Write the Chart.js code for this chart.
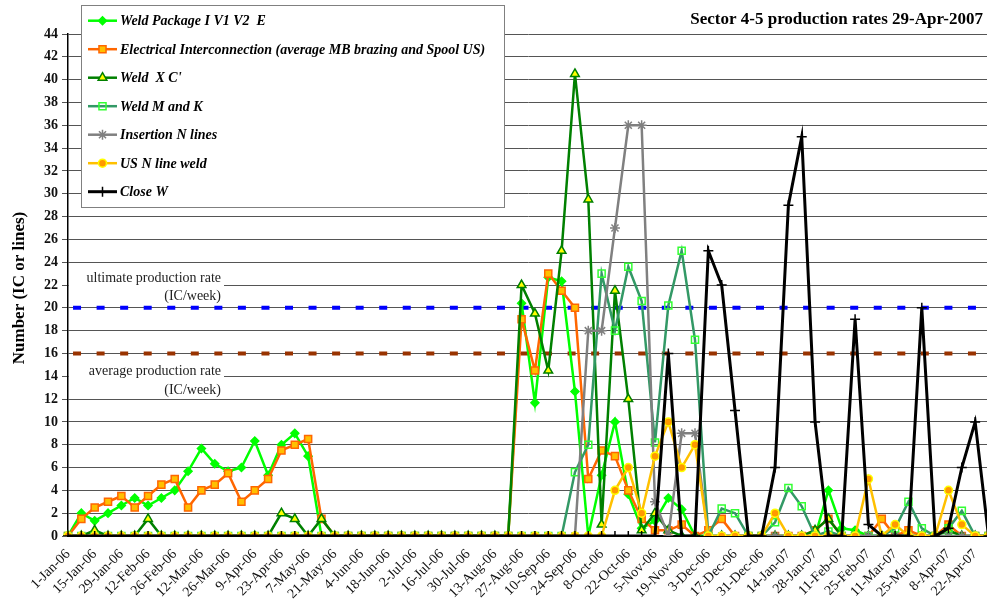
<!DOCTYPE html>
<html>
<head>
<meta charset="utf-8">
<script src="https://cdn.jsdelivr.net/npm/chart.js@4.4.0/dist/chart.umd.min.js"></script>
<style>
  html, body { margin: 0; padding: 0; background: #fff; overflow: hidden; }
  #wrap { position: absolute; left: 0; top: 0; width: 995px; height: 601px; }
</style>
</head>
<body>
<div id="wrap"><canvas id="chart"></canvas></div>
<script>
// weekly categories, a label is shown every second week
const weeks = [
    '1-Jan-06', '8-Jan-06', '15-Jan-06', '22-Jan-06', '29-Jan-06', '5-Feb-06', '12-Feb-06', '19-Feb-06',
    '26-Feb-06', '5-Mar-06', '12-Mar-06', '19-Mar-06', '26-Mar-06', '2-Apr-06', '9-Apr-06', '16-Apr-06',
    '23-Apr-06', '30-Apr-06', '7-May-06', '14-May-06', '21-May-06', '28-May-06', '4-Jun-06', '11-Jun-06',
    '18-Jun-06', '25-Jun-06', '2-Jul-06', '9-Jul-06', '16-Jul-06', '23-Jul-06', '30-Jul-06', '6-Aug-06',
    '13-Aug-06', '20-Aug-06', '27-Aug-06', '3-Sep-06', '10-Sep-06', '17-Sep-06', '24-Sep-06', '1-Oct-06',
    '8-Oct-06', '15-Oct-06', '22-Oct-06', '29-Oct-06', '5-Nov-06', '12-Nov-06', '19-Nov-06', '26-Nov-06',
    '3-Dec-06', '10-Dec-06', '17-Dec-06', '24-Dec-06', '31-Dec-06', '7-Jan-07', '14-Jan-07', '21-Jan-07',
    '28-Jan-07', '4-Feb-07', '11-Feb-07', '18-Feb-07', '25-Feb-07', '4-Mar-07', '11-Mar-07', '18-Mar-07',
    '25-Mar-07', '1-Apr-07', '8-Apr-07', '15-Apr-07', '22-Apr-07', '29-Apr-07'
];

const weldPackage = [
    0, 2, 1.33, 2, 2.67, 3.33, 2.67, 3.33, 4, 5.67, 7.67, 6.33, 5.67, 6, 8.33, 5.33, 8, 9, 7, 0,
    0, 0, 0, 0, 0, 0, 0, 0, 0, 0, 0, 0, 0, 0,
    20.4, 11.67, 22.67, 22.33, 12.67, 0, 5.33, 10, 3.67, 0.67, 1.33, 3.33, 2.33, 0,
    0, 0, 0, 0, 0, 0, 0, 0, 0, 4, 0.67, 0.5,
    0, 0, 0, 0, 0, 0, 0, 0, 0, 0
];
const electrical = [
    0, 1.5, 2.5, 3, 3.5, 2.5, 3.5, 4.5, 5, 2.5, 4, 4.5, 5.5, 3, 4, 5, 7.5, 8, 8.5, 1.5,
    0, 0, 0, 0, 0, 0, 0, 0, 0, 0, 0, 0, 0, 0,
    19, 14.5, 23, 21.5, 20, 5, 7.5, 7, 4, 1.5, 0.5, 0.5, 1, 0,
    0.5, 1.5, 0, 0, 0, 0, 0, 0, 0.5, 1.5, 0, 0,
    0, 1.5, 0, 0.5, 0, 0, 1, 0, 0, 0
];
const weldXC = [
    0, 0, 0.5, 0, 0, 0, 1.5, 0, 0, 0, 0, 0, 0, 0, 0, 0, 2, 1.5, 0, 1.5,
    0, 0, 0, 0, 0, 0, 0, 0, 0, 0, 0, 0, 0, 0,
    22, 19.5, 14.5, 25, 40.5, 29.5, 1, 21.5, 12, 0.5, 2, 0.5, 0, 0,
    0, 0, 0, 0, 0, 0, 0, 0, 0.5, 1.5, 0, 0,
    0, 0, 0, 0, 0, 0, 0.5, 0, 0, 0
];
const weldMK = [
    0, 0, 0, 0, 0, 0, 0, 0, 0, 0, 0, 0, 0, 0, 0, 0, 0, 0, 0, 0,
    0, 0, 0, 0, 0, 0, 0, 0, 0, 0, 0, 0, 0, 0,
    0, 0, 0, 0, 5.6, 8, 23, 18, 23.6, 20.6, 8.2, 20.2, 25, 17.2,
    0, 2.4, 2, 0, 0, 1.2, 4.2, 2.6, 0, 0.4, 0, 0,
    0, 0, 0.67, 3, 0.67, 0, 0.67, 2.2, 0, 0
];
const insertion = [
    0, 0, 0, 0, 0, 0, 0, 0, 0, 0, 0, 0, 0, 0, 0, 0, 0, 0, 0, 0,
    0, 0, 0, 0, 0, 0, 0, 0, 0, 0, 0, 0, 0, 0,
    0, 0, 0, 0, 0, 18, 18, 27, 36, 36, 3, 0, 9, 9,
    0, 0, 0, 0, 0, 0, 0, 0, 0, 0, 0, 0,
    0, 0, 0, 0, 0, 0, 0, 0, 0, 0
];
const usWeld = [
    0, 0, 0, 0, 0, 0, 0, 0, 0, 0, 0, 0, 0, 0, 0, 0, 0, 0, 0, 0,
    0, 0, 0, 0, 0, 0, 0, 0, 0, 0, 0, 0, 0, 0,
    0, 0, 0, 0, 0, 0, 0, 4, 6, 2, 7, 10, 6, 8,
    0, 0, 0, 0, 0, 2, 0, 0, 0, 0, 0, 0,
    5, 0, 1, 0, 0, 0, 4, 1, 0, 0
];
const closeW = [
    0, 0, 0, 0, 0, 0, 0, 0, 0, 0, 0, 0, 0, 0, 0, 0, 0, 0, 0, 0,
    0, 0, 0, 0, 0, 0, 0, 0, 0, 0, 0, 0, 0, 0,
    0, 0, 0, 0, 0, 0, 0, 0, 0, 0, 0, 16, 0, 0,
    25, 22, 11, 0, 0, 6, 29, 35, 10, 0, 0, 19,
    1, 0, 0, 0, 20, 0, 0.67, 6, 10, 0
];

const ultimateRate = 20;
const averageRate = 16;
const yTicksMax = 44;

const serif = '"Liberation Serif", "Times New Roman", serif';

function series(label, data, line, style, fill, border, radius, order, width) {
    return {
        label: label,
        data: data,
        borderColor: line,
        borderWidth: width || 2.5,
        pointStyle: style,
        pointBackgroundColor: fill,
        pointBorderColor: border,
        pointBorderWidth: 1.5,
        pointRadius: radius,
        tension: 0,
        order: order
    };
}

const datasets = [
    series('Weld Package I V1 V2  E', weldPackage, '#00FF00', 'rectRot', '#00FF00', '#00FF00', 4, 7),
    series('Electrical Interconnection (average MB brazing and Spool US)', electrical, '#FF6600', 'rect', '#FFC000', '#FF6600', 5, 6),
    series("Weld  X C'", weldXC, '#008000', 'triangle', '#FFFF00', '#008000', 5, 5),
    series('Weld M and K', weldMK, '#339966', 'rect', 'rgba(255,255,255,0)', '#33FF33', 5, 4),
    series('Insertion N lines', insertion, '#808080', 'star', '#808080', '#808080', 5, 3),
    series('US N line weld', usWeld, '#FFC000', 'circle', '#FF9900', '#FFFF00', 4, 2),
    series('Close W', closeW, '#000000', 'cross', '#000000', '#000000', 5, 1, 3)
];

// dashed rate lines, white boxes with the rate notes
const beforePlugin = {
    id: 'rates',
    beforeDatasetsDraw(chart) {
        const ctx = chart.ctx;
        const y = chart.scales.y;
        const area = chart.chartArea;
        ctx.save();
        ctx.fillStyle = '#fff';
        ctx.fillRect(area.left + 1, y.getPixelForValue(23.4), 155, 33);
        ctx.fillRect(area.left + 1, y.getPixelForValue(15.1), 155, 32);
        ctx.fillStyle = '#222';
        ctx.font = '14px ' + serif;
        ctx.textAlign = 'right';
        ctx.textBaseline = 'middle';
        ctx.fillText('ultimate production rate', 221, y.getPixelForValue(22.6));
        ctx.fillText('(IC/week)', 221, y.getPixelForValue(21.0));
        ctx.fillText('average production rate', 221, y.getPixelForValue(14.4));
        ctx.fillText('(IC/week)', 221, y.getPixelForValue(12.8));

        ctx.lineWidth = 4;
        ctx.lineCap = 'butt';
        ctx.setLineDash([8, 15.55]);
        ctx.lineDashOffset = 18.5;
        [[ultimateRate, '#0000FF'], [averageRate, '#993300']].forEach(function(r) {
            const py = y.getPixelForValue(r[0]);
            ctx.strokeStyle = r[1];
            ctx.beginPath();
            ctx.moveTo(area.left, py);
            ctx.lineTo(area.right, py);
            ctx.stroke();
        });
        ctx.restore();
    }
};

// legend box, title and axis title
const afterPlugin = {
    id: 'frame',
    afterDraw(chart) {
        const ctx = chart.ctx;
        ctx.save();
        ctx.fillStyle = '#fff';
        ctx.fillRect(81, 5, 423, 202);
        ctx.strokeStyle = '#808080';
        ctx.lineWidth = 1;
        ctx.strokeRect(81.5, 5.5, 423, 202);

        chart.data.datasets.forEach(function(ds, i) {
            const ly = 20.7 + 28.5 * i;
            ctx.strokeStyle = ds.borderColor;
            ctx.lineWidth = ds.borderWidth;
            ctx.beginPath();
            ctx.moveTo(88, ly);
            ctx.lineTo(117, ly);
            ctx.stroke();
            ctx.fillStyle = ds.pointBackgroundColor;
            ctx.strokeStyle = ds.pointBorderColor;
            ctx.lineWidth = ds.pointBorderWidth;
            Chart.helpers.drawPoint(ctx, {pointStyle: ds.pointStyle, radius: ds.pointRadius, borderWidth: ds.pointBorderWidth, rotation: 0}, 102.5, ly);
            ctx.fillStyle = '#000';
            ctx.font = 'italic bold 14px ' + serif;
            ctx.textAlign = 'left';
            ctx.textBaseline = 'middle';
            ctx.fillText(ds.label, 120, ly + 1);
        });

        ctx.fillStyle = '#000';
        ctx.font = 'bold 17px ' + serif;
        ctx.textAlign = 'right';
        ctx.textBaseline = 'middle';
        ctx.fillText('Sector 4-5 production rates 29-Apr-2007', 983, 20);

        ctx.translate(20, 288);
        ctx.rotate(-Math.PI / 2);
        ctx.textAlign = 'center';
        ctx.font = 'bold 17px ' + serif;
        ctx.fillText('Number (IC or lines)', 0, 0);
        ctx.restore();
    }
};

new Chart(document.getElementById('chart'), {
    type: 'line',
    data: { labels: weeks, datasets: datasets },
    options: {
        responsive: true,
        maintainAspectRatio: false,
        animation: false,
        layout: { padding: { left: 0, right: 6, top: 34, bottom: 0 } },
        plugins: { legend: { display: false }, tooltip: { enabled: false } },
        scales: {
            x: {
                afterFit: function(scale) {
                    scale.height = 65;
                    scale.paddingLeft = 0;
                    scale.paddingRight = 0;
                },
                grid: { display: false },
                border: { display: true, color: '#000', width: 2 },
                ticks: {
                    autoSkip: false,
                    minRotation: 45,
                    maxRotation: 45,
                    padding: 2,
                    color: '#111',
                    font: { family: serif, size: 14 },
                    callback: function(val, idx) { return idx % 2 === 0 ? weeks[idx] : ''; }
                }
            },
            y: {
                min: 0,
                max: yTicksMax,
                afterFit: function(scale) { scale.width = 68; },
                grid: { color: '#555', lineWidth: 1, tickLength: 6 },
                border: { display: true, color: '#000', width: 1.5 },
                ticks: {
                    stepSize: 2,
                    padding: 4,
                    color: '#111',
                    font: { family: serif, size: 14, weight: 'bold' }
                }
            }
        }
    },
    plugins: [beforePlugin, afterPlugin]
});
</script>
</body>
</html>
